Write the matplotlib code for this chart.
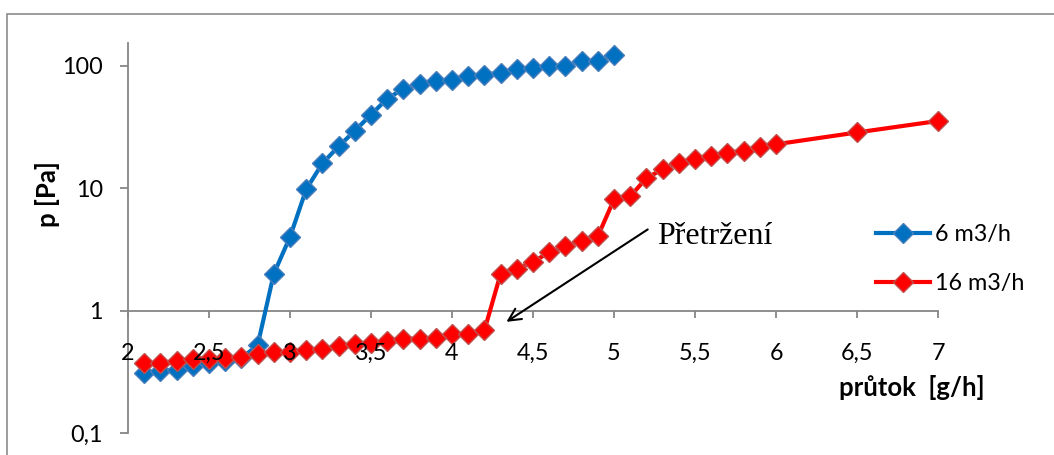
import matplotlib
matplotlib.use("Agg")
import matplotlib.pyplot as plt
from matplotlib.patches import Rectangle
from matplotlib.ticker import FixedLocator, FuncFormatter, NullLocator

# ---- data ----
x_6 = [2.1, 2.2, 2.3, 2.4, 2.5, 2.6, 2.7, 2.8, 2.9, 3.0,
       3.1, 3.2, 3.3, 3.4, 3.5, 3.6, 3.7, 3.8, 3.9, 4.0,
       4.1, 4.2, 4.3, 4.4, 4.5, 4.6, 4.7, 4.8, 4.9, 5.0]
p_6 = [0.31, 0.32, 0.33, 0.35, 0.37, 0.39, 0.41, 0.52, 2.0, 4.0,
       9.8, 16, 22, 29.5, 40, 54, 65, 71, 76, 77,
       83, 85, 88, 94, 96, 100, 100, 110, 110, 123]

x_16 = [2.1, 2.2, 2.3, 2.4, 2.5, 2.6, 2.7, 2.8, 2.9, 3.0,
        3.1, 3.2, 3.3, 3.4, 3.5, 3.6, 3.7, 3.8, 3.9, 4.0,
        4.1, 4.2, 4.3, 4.4, 4.5, 4.6, 4.7, 4.8, 4.9, 5.0,
        5.1, 5.2, 5.3, 5.4, 5.5, 5.6, 5.7, 5.8, 5.9, 6.0,
        6.5, 7.0]
p_16 = [0.37, 0.37, 0.39, 0.40, 0.40, 0.41, 0.42, 0.44, 0.455, 0.46,
        0.48, 0.49, 0.51, 0.53, 0.54, 0.57, 0.59, 0.59, 0.60, 0.64,
        0.65, 0.69, 2.0, 2.2, 2.5, 3.0, 3.35, 3.7, 4.05, 8.1,
        8.6, 12.1, 14.3, 16.2, 17.3, 18.2, 19.6, 20.2, 21.6, 22.9,
        28.6, 35.5]

labels = ["6 m3/h", "16 m3/h"]
x_ticks = [2, 2.5, 3, 3.5, 4, 4.5, 5, 5.5, 6, 6.5, 7]
y_ticks = [0.1, 1, 10, 100]
x_label = "průtok  [g/h]"
y_label = "p [Pa]"
note = "Přetržení"

# ---- figure ----
W, H = 1054, 455
fig = plt.figure(figsize=(W / 100, H / 100), dpi=100)
fig.patch.set_facecolor("white")

# outer chart border (cropped at right / bottom)
fig.patches.append(Rectangle((7 / W, -0.2), 1.5, 1 - 14 / H + 0.2,
                             transform=fig.transFigure, fill=False,
                             edgecolor="#8c8c8c", linewidth=1.2, zorder=0))

ax = fig.add_axes([128 / W, 1 - 433 / H, (938 - 128) / W, (433 - 43) / H])
ax.set_facecolor("none")
ax.set_yscale("log")
ax.set_xlim(2, 7)
ax.set_ylim(0.1, 154)

blue = "#0070C0"
red = "#FF0000"
ax.plot(x_6, p_6, color=blue, lw=3.0, marker="D", ms=10,
        markerfacecolor=blue, markeredgecolor="#4a7ebb", markeredgewidth=1.0,
        label=labels[0], clip_on=False, zorder=3)
ax.plot(x_16, p_16, color=red, lw=3.0, marker="D", ms=10,
        markerfacecolor=red, markeredgecolor="#c0504d", markeredgewidth=1.0,
        label=labels[1], clip_on=False, zorder=4)

axis_col = "#868686"
for s in ["top", "right"]:
    ax.spines[s].set_visible(False)
ax.spines["left"].set_color(axis_col)
ax.spines["left"].set_linewidth(1.3)
ax.spines["bottom"].set_color(axis_col)
ax.spines["bottom"].set_linewidth(1.3)
ax.spines["bottom"].set_position(("data", 1))
ax.xaxis.set_zorder(5)

tick_font = "Lato"
fs = 16.8
ax.xaxis.set_major_locator(FixedLocator(x_ticks))
ax.xaxis.set_minor_locator(NullLocator())
ax.xaxis.set_major_formatter(FuncFormatter(lambda v, p: ("%g" % v).replace(".", ",")))
ax.yaxis.set_major_locator(FixedLocator(y_ticks))
ax.yaxis.set_minor_locator(NullLocator())
ax.yaxis.set_major_formatter(FuncFormatter(lambda v, p: ("%g" % v).replace(".", ",")))
ax.tick_params(axis="x", direction="out", length=5, width=1.3, color=axis_col,
               pad=18, labelsize=fs)
ax.tick_params(axis="y", direction="out", length=6, width=1.3, color=axis_col,
               pad=12, labelsize=fs)
for lab in ax.get_xticklabels() + ax.get_yticklabels():
    lab.set_fontfamily(tick_font)
    lab.set_color("black")

fig.text(48 / W, 1 - 194 / H, y_label, rotation=90, ha="center", va="center",
         fontsize=18.5, fontweight="bold", fontfamily=tick_font)
fig.text(985 / W, 1 - 388 / H, x_label, ha="right", va="center",
         fontsize=18.5, fontweight="bold", fontfamily=tick_font)

# annotation
ax.annotate("", xy=(4.336, 0.81), xytext=(5.208, 4.61),
            arrowprops=dict(arrowstyle="->", color="black", lw=1.5,
                            mutation_scale=22, shrinkA=0, shrinkB=0))
ax.text(5.263, 4.04, note, ha="left", va="center", fontsize=23,
        fontfamily="Liberation Serif", color="black")

leg = ax.legend(loc="upper left", bbox_to_anchor=(876 / W, 1 - 224 / H),
                bbox_transform=fig.transFigure, frameon=False,
                borderpad=0, borderaxespad=0, handlelength=2.3,
                handletextpad=0.22, labelspacing=1.2,
                prop={"family": tick_font, "size": fs})

fig.savefig("out.png", dpi=100, facecolor="white")
